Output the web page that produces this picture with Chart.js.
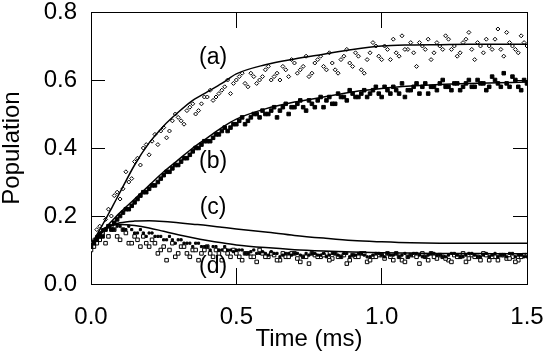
<!DOCTYPE html>
<html>
<head>
<meta charset="utf-8">
<script src="https://cdn.jsdelivr.net/npm/chart.js@4.4.1/dist/chart.umd.min.js"></script>
<style>
html,body{margin:0;padding:0;background:#fff;}
#wrap{width:545px;height:355px;}
</style>
</head>
<body>
<div id="wrap"><canvas id="c" width="545" height="355"></canvas></div>
<script>
// ---------- data ----------
const xTicks = [0.0, 0.5, 1.0, 1.5];
const yTicks = [0.0, 0.2, 0.4, 0.6, 0.8];

const tFit = [0, 0.025, 0.05, 0.075, 0.1, 0.15, 0.2, 0.25, 0.3, 0.35, 0.4, 0.45, 0.5, 0.6, 0.7, 0.8, 0.9, 1.0, 1.1, 1.2, 1.3, 1.4, 1.5];
const fitA = [0.115, 0.152, 0.19, 0.23, 0.27, 0.35, 0.415, 0.465, 0.505, 0.54, 0.565, 0.59, 0.618, 0.645, 0.662, 0.676, 0.69, 0.70, 0.703, 0.704, 0.705, 0.705, 0.705];
const fitB = [0.115, 0.14, 0.165, 0.188, 0.21, 0.25, 0.29, 0.33, 0.365, 0.40, 0.43, 0.46, 0.485, 0.515, 0.535, 0.55, 0.565, 0.575, 0.582, 0.587, 0.59, 0.592, 0.594];
const fitC = [0.115, 0.14, 0.16, 0.173, 0.18, 0.185, 0.186, 0.184, 0.18, 0.176, 0.172, 0.167, 0.162, 0.153, 0.143, 0.135, 0.128, 0.124, 0.121, 0.12, 0.12, 0.12, 0.12];
const fitD = [0.115, 0.145, 0.165, 0.173, 0.175, 0.172, 0.165, 0.155, 0.145, 0.136, 0.128, 0.121, 0.115, 0.107, 0.101, 0.097, 0.094, 0.092, 0.091, 0.09, 0.09, 0.089, 0.089];

// measured samples on even times
const tData = [0.00,0.02,0.04,0.06,0.08,0.10,0.12,0.14,0.16,0.18,0.20,0.22,0.24,0.26,0.28,0.30,0.32,0.34,0.36,0.38,
  0.40,0.42,0.44,0.46,0.48,0.50,0.52,0.54,0.56,0.58,0.60,0.62,0.64,0.66,0.68,0.70,0.72,0.74,0.76,0.78,
  0.80,0.82,0.84,0.86,0.88,0.90,0.92,0.94,0.96,0.98,1.00,1.02,1.04,1.06,1.08,1.10,1.12,1.14,1.16,1.18,
  1.20,1.22,1.24,1.26,1.28,1.30,1.32,1.34,1.36,1.38,1.40,1.42,1.44,1.46,1.48,1.50];
const dataA = [0.12,0.16,0.15,0.22,0.26,0.25,0.33,0.31,0.37,0.40,0.38,0.44,0.45,0.43,0.48,0.49,0.47,0.52,0.50,0.53,
  0.55,0.54,0.56,0.58,0.56,0.60,0.62,0.58,0.61,0.60,0.63,0.60,0.62,0.64,0.61,0.65,0.63,0.67,0.62,0.66,
  0.64,0.68,0.63,0.66,0.69,0.64,0.67,0.62,0.68,0.70,0.66,0.69,0.72,0.67,0.69,0.71,0.64,0.70,0.72,0.68,
  0.70,0.73,0.69,0.67,0.71,0.74,0.66,0.70,0.72,0.69,0.75,0.67,0.71,0.69,0.73,0.70];
const dataB = [0.11,0.13,0.14,0.17,0.18,0.20,0.22,0.23,0.25,0.27,0.28,0.29,0.31,0.33,0.34,0.35,0.37,0.38,0.40,0.41,
  0.42,0.43,0.44,0.46,0.46,0.47,0.49,0.48,0.50,0.49,0.50,0.51,0.49,0.52,0.50,0.52,0.54,0.51,0.53,0.54,
  0.52,0.55,0.53,0.55,0.54,0.56,0.55,0.57,0.56,0.58,0.55,0.57,0.58,0.56,0.55,0.57,0.59,0.58,0.56,0.58,
  0.59,0.58,0.57,0.59,0.58,0.60,0.58,0.59,0.57,0.61,0.59,0.62,0.58,0.60,0.57,0.59];
const dataC = [0.11,0.14,0.16,0.17,0.16,0.17,0.16,0.16,0.15,0.15,0.15,0.14,0.14,0.13,0.13,0.13,0.12,0.12,0.12,0.11,
  0.11,0.11,0.10,0.11,0.10,0.10,0.10,0.09,0.10,0.09,0.09,0.095,0.09,0.085,0.09,0.09,0.085,0.09,0.09,0.085,
  0.09,0.085,0.09,0.08,0.09,0.085,0.09,0.085,0.08,0.09,0.085,0.09,0.085,0.08,0.09,0.085,0.09,0.08,0.085,0.09,
  0.085,0.08,0.09,0.085,0.08,0.09,0.085,0.08,0.09,0.085,0.08,0.085,0.09,0.08,0.085,0.08];
const dataD = [0.10,0.12,0.15,0.14,0.16,0.13,0.15,0.12,0.13,0.14,0.11,0.12,0.10,0.07,0.12,0.09,0.11,0.08,0.10,0.09,
  0.11,0.08,0.09,0.10,0.08,0.09,0.07,0.09,0.08,0.10,0.08,0.09,0.07,0.09,0.08,0.09,0.065,0.08,0.09,0.08,
  0.085,0.07,0.09,0.08,0.06,0.085,0.08,0.09,0.07,0.08,0.085,0.09,0.07,0.08,0.065,0.085,0.08,0.09,0.07,0.08,
  0.085,0.075,0.065,0.08,0.09,0.075,0.08,0.07,0.085,0.08,0.07,0.085,0.075,0.065,0.08,0.085];

// measured samples on odd times
const tData2 = [0.01,0.03,0.05,0.07,0.09,0.11,0.13,0.15,0.17,0.19,0.21,0.23,0.25,0.27,0.29,0.31,0.33,0.35,0.37,0.39,
  0.41,0.43,0.45,0.47,0.49,0.51,0.53,0.55,0.57,0.59,0.61,0.63,0.65,0.67,0.69,0.71,0.73,0.75,0.77,0.79,
  0.81,0.83,0.85,0.87,0.89,0.91,0.93,0.95,0.97,0.99,1.01,1.03,1.05,1.07,1.09,1.11,1.13,1.15,1.17,1.19,
  1.21,1.23,1.25,1.27,1.29,1.31,1.33,1.35,1.37,1.39,1.41,1.43,1.45,1.47,1.49];
const dataA2 = [0.13,0.17,0.19,0.20,0.27,0.28,0.30,0.36,0.35,0.41,0.42,0.41,0.46,0.45,0.50,0.48,0.51,0.53,0.51,0.55,
  0.57,0.55,0.57,0.60,0.59,0.61,0.59,0.62,0.59,0.61,0.64,0.61,0.60,0.63,0.66,0.62,0.64,0.61,0.65,0.67,
  0.63,0.65,0.62,0.67,0.65,0.68,0.63,0.66,0.71,0.67,0.70,0.66,0.68,0.73,0.69,0.68,0.71,0.69,0.66,0.71,
  0.69,0.72,0.70,0.68,0.72,0.69,0.71,0.68,0.70,0.72,0.69,0.74,0.70,0.68,0.71];
const dataB2 = [0.12,0.14,0.16,0.16,0.19,0.21,0.22,0.24,0.26,0.27,0.29,0.30,0.32,0.33,0.35,0.36,0.37,0.39,0.40,0.42,
  0.42,0.44,0.45,0.45,0.47,0.48,0.47,0.49,0.50,0.51,0.50,0.52,0.51,0.53,0.52,0.53,0.52,0.54,0.52,0.55,
  0.54,0.53,0.56,0.55,0.57,0.55,0.56,0.55,0.57,0.56,0.58,0.56,0.57,0.59,0.57,0.58,0.56,0.59,0.58,0.57,
  0.60,0.58,0.59,0.57,0.59,0.58,0.60,0.59,0.58,0.60,0.58,0.59,0.61,0.58,0.60];
const dataC2 = [0.12,0.15,0.16,0.16,0.17,0.16,0.17,0.15,0.16,0.14,0.15,0.14,0.13,0.14,0.12,0.13,0.12,0.11,0.12,0.11,
  0.10,0.11,0.10,0.10,0.095,0.10,0.09,0.095,0.09,0.095,0.085,0.09,0.08,0.09,0.085,0.09,0.08,0.085,0.09,0.085,
  0.08,0.09,0.085,0.09,0.08,0.085,0.09,0.08,0.085,0.09,0.08,0.085,0.09,0.085,0.08,0.09,0.085,0.08,0.09,0.085,
  0.08,0.085,0.09,0.08,0.085,0.09,0.08,0.085,0.08,0.09,0.085,0.08,0.09,0.085,0.08];
const dataD2 = [0.11,0.13,0.12,0.17,0.14,0.16,0.12,0.14,0.11,0.12,0.13,0.09,0.11,0.10,0.08,0.11,0.09,0.10,0.07,0.10,
  0.09,0.10,0.07,0.09,0.10,0.08,0.09,0.08,0.065,0.09,0.08,0.085,0.07,0.08,0.09,0.075,0.08,0.06,0.085,0.08,
  0.09,0.075,0.08,0.085,0.07,0.08,0.09,0.065,0.08,0.085,0.075,0.08,0.09,0.07,0.08,0.085,0.06,0.08,0.09,0.075,
  0.08,0.07,0.085,0.08,0.065,0.085,0.08,0.09,0.07,0.08,0.085,0.075,0.08,0.07,0.085];

const curveLabels = ['(a)', '(b)', '(c)', '(d)'];
const labelT = [0.42, 0.42, 0.42, 0.42];
const labelP = [0.665, 0.36, 0.226, 0.05];

// ---------- build ----------
const pts = (xs, ys) => xs.map((x, i) => ({x: x, y: ys[i]}));
const FONT = "'Liberation Sans', Arial, Helvetica, sans-serif";

const lineDs = (d) => ({type: 'line', data: pts(tFit, d), borderColor: '#000', borderWidth: 1.5,
  pointRadius: 0, fill: false, cubicInterpolationMode: 'monotone', order: 0});

const styleA = {pointStyle: 'rectRot', pointRadius: 2, borderWidth: 1, borderColor: '#000', backgroundColor: '#fff', order: 1};
const styleB = {pointStyle: 'rect', pointRadius: 2.5, borderWidth: 1, borderColor: '#000', backgroundColor: '#000', order: 1};
const styleC = {pointStyle: 'rect', pointRadius: 1.5, borderWidth: 1, borderColor: '#000', backgroundColor: '#000', order: 1};
const styleD = {pointStyle: 'rect', pointRadius: 2.5, borderWidth: 1, borderColor: '#000', backgroundColor: '#fff', order: 1};

const curveText = {
  id: 'curveText',
  afterDatasetsDraw(chart) {
    const ctx = chart.ctx;
    const x = chart.scales.x, y = chart.scales.y;
    ctx.save();
    ctx.fillStyle = '#000';
    ctx.font = '23px ' + FONT;
    ctx.textAlign = 'center';
    ctx.textBaseline = 'middle';
    curveLabels.forEach((s, i) => {
      ctx.fillText(s, x.getPixelForValue(labelT[i]), y.getPixelForValue(labelP[i]));
    });
    ctx.restore();
  }
};

const gridIn = (len) => ({display: true, drawOnChartArea: false, drawTicks: true, tickLength: -len,
  tickColor: '#000', tickWidth: 1, color: '#000'});
const borderOn = {display: true, color: '#000', width: 1};
const noPad = (s) => { s.paddingLeft = 0; s.paddingRight = 0; s.paddingTop = 0; s.paddingBottom = 0; };

new Chart(document.getElementById('c'), {
  type: 'scatter',
  data: {
    datasets: [
      lineDs(fitA), lineDs(fitB), lineDs(fitC), lineDs(fitD),
      Object.assign({data: pts(tData, dataA)}, styleA),
      Object.assign({data: pts(tData2, dataA2)}, styleA),
      Object.assign({data: pts(tData, dataB)}, styleB),
      Object.assign({data: pts(tData2, dataB2)}, styleB),
      Object.assign({data: pts(tData, dataC)}, styleC),
      Object.assign({data: pts(tData2, dataC2)}, styleC),
      Object.assign({data: pts(tData, dataD)}, styleD),
      Object.assign({data: pts(tData2, dataD2)}, styleD)
    ]
  },
  options: {
    responsive: false,
    animation: false,
    devicePixelRatio: 1,
    layout: {padding: 0},
    plugins: {legend: {display: false}, tooltip: {enabled: false}},
    scales: {
      x: {
        type: 'linear', position: 'bottom', min: 0, max: 1.5,
        afterBuildTicks: (s) => { s.ticks = xTicks.map(v => ({value: v})); },
        afterFit: (s) => { s.height = 71; noPad(s); },
        grid: gridIn(16),
        border: borderOn,
        ticks: {color: '#000', padding: 35, maxRotation: 0, font: {family: FONT, size: 24},
          callback: (v) => Number(v).toFixed(1)},
        title: {display: true, text: 'Time (ms)', color: '#000', padding: {top: 0, bottom: 4},
          font: {family: FONT, size: 24, lineHeight: 1}}
      },
      x2: {
        type: 'linear', position: 'top', min: 0, max: 1.5,
        afterBuildTicks: (s) => { s.ticks = xTicks.map(v => ({value: v})); },
        afterFit: (s) => { s.height = 12; noPad(s); },
        grid: gridIn(16),
        border: borderOn,
        ticks: {display: false}
      },
      y: {
        type: 'linear', position: 'left', min: 0, max: 0.8,
        afterBuildTicks: (s) => { s.ticks = yTicks.map(v => ({value: v})); },
        afterFit: (s) => { s.width = 91; noPad(s); },
        grid: gridIn(14),
        border: borderOn,
        ticks: {color: '#000', padding: 28, font: {family: FONT, size: 24},
          callback: (v) => Number(v).toFixed(1)},
        title: {display: true, text: 'Population', color: '#000', padding: {top: 0, bottom: 0},
          font: {family: FONT, size: 24, lineHeight: 1}}
      },
      y2: {
        type: 'linear', position: 'right', min: 0, max: 0.8,
        afterBuildTicks: (s) => { s.ticks = yTicks.map(v => ({value: v})); },
        afterFit: (s) => { s.width = 18; noPad(s); },
        grid: gridIn(14),
        border: borderOn,
        ticks: {display: false}
      }
    }
  },
  plugins: [curveText]
});
</script>
</body>
</html>
